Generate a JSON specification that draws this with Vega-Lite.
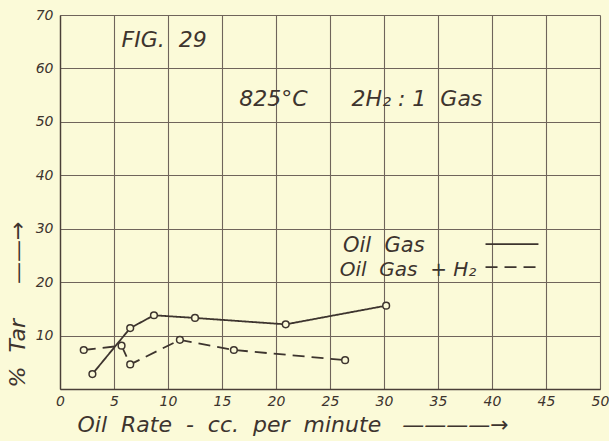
{
  "$schema": "https://vega.github.io/schema/vega-lite/v6.json",
  "width": 540,
  "height": 374,
  "autosize": "none",
  "padding": {"left": 60, "top": 15, "right": 9, "bottom": 52},
  "background": "#fbfad8",
  "config": {
    "view": {"stroke": null},
    "font": "DejaVu Sans",
    "axis": {
      "grid": true,
      "gridColor": "#6f645b",
      "gridWidth": 1.1,
      "gridOpacity": 1,
      "domainColor": "#4a3f38",
      "domainWidth": 1.4,
      "ticks": false,
      "labelFont": "DejaVu Sans",
      "labelFontStyle": "italic",
      "labelFontSize": 14,
      "labelColor": "#3d342e",
      "titleFont": "DejaVu Sans",
      "titleFontStyle": "italic",
      "titleFontWeight": "normal",
      "titleColor": "#3d342e"
    }
  },
  "data": {
    "values": [
      {"series": "Oil Gas", "rate": 3.0, "tar": 2.8},
      {"series": "Oil Gas", "rate": 6.5, "tar": 11.4},
      {"series": "Oil Gas", "rate": 8.7, "tar": 13.8},
      {"series": "Oil Gas", "rate": 12.5, "tar": 13.3},
      {"series": "Oil Gas", "rate": 20.9, "tar": 12.1},
      {"series": "Oil Gas", "rate": 30.2, "tar": 15.6},
      {"series": "Oil Gas + H₂", "rate": 2.2, "tar": 7.3},
      {"series": "Oil Gas + H₂", "rate": 5.7, "tar": 8.1},
      {"series": "Oil Gas + H₂", "rate": 6.5, "tar": 4.6},
      {"series": "Oil Gas + H₂", "rate": 11.1, "tar": 9.2},
      {"series": "Oil Gas + H₂", "rate": 16.1, "tar": 7.3},
      {"series": "Oil Gas + H₂", "rate": 26.4, "tar": 5.4}
    ]
  },
  "layer": [
    {
      "mark": {"type": "line", "color": "#3d342e", "strokeWidth": 1.8},
      "encoding": {
        "x": {
          "field": "rate", "type": "quantitative",
          "scale": {"domain": [0, 50], "nice": false},
          "axis": {
            "values": [0, 5, 10, 15, 20, 25, 30, 35, 40, 45, 50],
            "labelPadding": 5,
            "labelFlush": false,
            "labelOverlap": false,
            "labelBound": false,
            "labelExpr": "datum.value === 0 ? '0\u00a0\u00a0\u00a0\u00a0' : datum.label",
            "title": "Oil\u00a0 Rate\u00a0 -\u00a0 cc.\u00a0 per\u00a0 minute\u00a0\u00a0 ————→",
            "titleFontSize": 22,
            "titleAnchor": "start",
            "titleAlign": "left",
            "titleBaseline": "alphabetic",
            "titleX": 17,
            "titleY": 42
          }
        },
        "y": {
          "field": "tar", "type": "quantitative",
          "scale": {"domain": [0, 70], "nice": false},
          "axis": {
            "values": [0, 10, 20, 30, 40, 50, 60, 70],
            "labelPadding": 7,
            "labelExpr": "datum.value === 0 ? '' : datum.label",
            "title": "%\u00a0 Tar\u00a0\u00a0\u00a0\u00a0 ——→",
            "titleFontSize": 22,
            "titleAngle": -90,
            "titleAlign": "left",
            "titleBaseline": "middle",
            "titleX": -43,
            "titleY": 372
          }
        },
        "detail": {"field": "series"},
        "strokeDash": {
          "field": "series",
          "scale": {"domain": ["Oil Gas", "Oil Gas + H₂"], "range": [[1, 0], [12, 7]]},
          "legend": null
        }
      }
    },
    {
      "mark": {"type": "point", "shape": "circle", "filled": true, "fill": "#fbfad8", "stroke": "#3d342e", "strokeWidth": 1.5, "size": 45, "opacity": 1},
      "encoding": {
        "x": {"field": "rate", "type": "quantitative"},
        "y": {"field": "tar", "type": "quantitative"}
      }
    },
    {
      "data": {"values": [{}]},
      "mark": {"type": "text", "text": "FIG.\u00a0 29", "font": "DejaVu Sans", "fontStyle": "italic", "fontSize": 22, "fill": "#3d342e", "align": "left", "baseline": "alphabetic"},
      "encoding": {"x": {"datum": 5.7}, "y": {"datum": 64.0}}
    },
    {
      "data": {"values": [{}]},
      "mark": {"type": "text", "text": "825°C", "font": "DejaVu Sans", "fontStyle": "italic", "fontSize": 22, "fill": "#3d342e", "align": "left", "baseline": "alphabetic"},
      "encoding": {"x": {"datum": 16.6}, "y": {"datum": 53.0}}
    },
    {
      "data": {"values": [{}]},
      "mark": {"type": "text", "text": "2H₂ : 1\u00a0 Gas", "font": "DejaVu Sans", "fontStyle": "italic", "fontSize": 22, "fill": "#3d342e", "align": "left", "baseline": "alphabetic"},
      "encoding": {"x": {"datum": 27.0}, "y": {"datum": 53.0}}
    },
    {
      "data": {"values": [{}]},
      "mark": {"type": "text", "text": "Oil\u00a0 Gas", "font": "DejaVu Sans", "fontStyle": "italic", "fontSize": 21, "fill": "#3d342e", "align": "left", "baseline": "alphabetic"},
      "encoding": {"x": {"datum": 26.2}, "y": {"datum": 25.7}}
    },
    {
      "data": {"values": [{}]},
      "mark": {"type": "text", "text": "Oil\u00a0 Gas\u00a0 + H₂", "font": "DejaVu Sans", "fontStyle": "italic", "fontSize": 20, "fill": "#3d342e", "align": "left", "baseline": "alphabetic"},
      "encoding": {"x": {"datum": 25.9}, "y": {"datum": 21.1}}
    },
    {
      "data": {"values": [{}]},
      "mark": {"type": "rule", "color": "#3d342e", "strokeWidth": 1.8},
      "encoding": {"x": {"datum": 39.4}, "x2": {"datum": 44.3}, "y": {"datum": 27.1}}
    },
    {
      "data": {"values": [{}]},
      "mark": {"type": "rule", "color": "#3d342e", "strokeWidth": 1.8, "strokeDash": [12, 7]},
      "encoding": {"x": {"datum": 39.4}, "x2": {"datum": 44.5}, "y": {"datum": 22.8}}
    }
  ]
}
